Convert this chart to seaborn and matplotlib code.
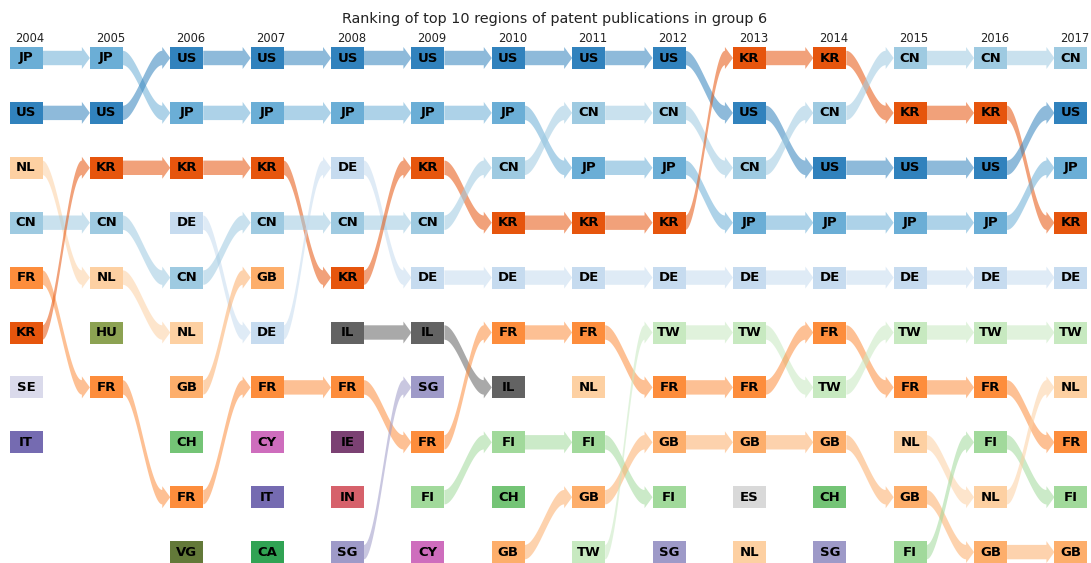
import numpy as np
import pandas as pd
import matplotlib
matplotlib.use("Agg")
import matplotlib.pyplot as plt
import seaborn as sns

YEARS = list(range(2004, 2018))

TOP_2004 = ["JP", "US", "NL", "CN", "FR", "KR", "SE", "IT"]
TOP_2005 = ["JP", "US", "KR", "CN", "NL", "HU", "FR"]
TOP_2006 = ["US", "JP", "KR", "DE", "CN", "NL", "GB", "CH", "FR", "VG"]
TOP_2007 = ["US", "JP", "KR", "CN", "GB", "DE", "FR", "CY", "IT", "CA"]
TOP_2008 = ["US", "JP", "DE", "CN", "KR", "IL", "FR", "IE", "IN", "SG"]
TOP_2009 = ["US", "JP", "KR", "CN", "DE", "IL", "SG", "FR", "FI", "CY"]
TOP_2010 = ["US", "JP", "CN", "KR", "DE", "FR", "IL", "FI", "CH", "GB"]
TOP_2011 = ["US", "CN", "JP", "KR", "DE", "FR", "NL", "FI", "GB", "TW"]
TOP_2012 = ["US", "CN", "JP", "KR", "DE", "TW", "FR", "GB", "FI", "SG"]
TOP_2013 = ["KR", "US", "CN", "JP", "DE", "TW", "FR", "GB", "ES", "NL"]
TOP_2014 = ["KR", "CN", "US", "JP", "DE", "FR", "TW", "GB", "CH", "SG"]
TOP_2015 = ["CN", "KR", "US", "JP", "DE", "TW", "FR", "NL", "GB", "FI"]
TOP_2016 = ["CN", "KR", "US", "JP", "DE", "TW", "FR", "FI", "NL", "GB"]
TOP_2017 = ["CN", "US", "JP", "KR", "DE", "TW", "NL", "FR", "FI", "GB"]

RANKINGS = dict(zip(YEARS, [TOP_2004, TOP_2005, TOP_2006, TOP_2007, TOP_2008,
                            TOP_2009, TOP_2010, TOP_2011, TOP_2012, TOP_2013,
                            TOP_2014, TOP_2015, TOP_2016, TOP_2017]))

# region -> colour index in tab20c / tab20b
TAB20C_IDX = {"US": 0, "JP": 1, "CN": 2, "DE": 3, "KR": 4, "FR": 5, "GB": 6,
              "NL": 7, "CA": 8, "CH": 9, "FI": 10, "TW": 11, "IT": 12,
              "SG": 13, "SE": 15, "IL": 16, "ES": 19}
TAB20B_IDX = {"VG": 4, "HU": 5, "IN": 14, "IE": 16, "CY": 18}

pal_c = sns.color_palette("tab20c", 20)
pal_b = sns.color_palette("tab20b", 20)
COLORS = {k: pal_c[i] for k, i in TAB20C_IDX.items()}
COLORS.update({k: pal_b[i] for k, i in TAB20B_IDX.items()})

df = pd.DataFrame([(y, r + 1, reg) for y in YEARS for r, reg in enumerate(RANKINGS[y])],
                  columns=["year", "rank", "region"])

sns.set_style("white")

# pixel scale of the layout
COL_PX, ROW_PX = 80.38, 54.9
PX_X, PX_Y = 1 / COL_PX, 1 / ROW_PX
BOX_W, BOX_H = 33, 22

fig = plt.figure(figsize=(10.91, 5.63), dpi=100)
ax = fig.add_axes([0, 0, 1, 1])


def ribbon(ax, x0, y0, x1, y1, color):
    half_w = BOX_W / 2 * PX_X
    head_len = 8 * PX_X
    xs = x0 + half_w
    xb = x1 - half_w - head_len
    xt = x1 - half_w
    t = np.linspace(0, 1, 80)
    s = 3 * t ** 2 - 2 * t ** 3
    xx = xs + (xb - xs) * t
    yy = y0 + (y1 - y0) * s
    h = 7.2 * PX_Y
    hh = 11 * PX_Y
    px = np.concatenate([xx, [xb, xt, xb], xx[::-1]])
    py = np.concatenate([yy - h, [y1 - hh, y1, y1 + hh], (yy + h)[::-1]])
    ax.fill(px, py, color=color, alpha=0.55, lw=0, zorder=1)


for ya, yb in zip(YEARS[:-1], YEARS[1:]):
    for ra, reg in enumerate(RANKINGS[ya]):
        if reg in RANKINGS[yb]:
            rb = RANKINGS[yb].index(reg)
            ribbon(ax, ya, ra + 1, yb, rb + 1, COLORS[reg])

rect = [(-1.5, -1), (1.5, -1), (1.5, 1), (-1.5, 1), (-1.5, -1)]
sns.scatterplot(data=df, x="year", y="rank", hue="region", palette=COLORS,
                marker=rect, s=(BOX_W * 0.72) ** 2, linewidth=0, legend=False,
                ax=ax, zorder=2)
ax.set_xlim(2004 - 26 * PX_X, 2004 + (1091 - 26) * PX_X)
ax.set_ylim(1 + (563 - 58) * PX_Y, 1 - 58 * PX_Y)
ax.axis("off")

for _, row in df.iterrows():
    ax.text(row["year"], row["rank"], row["region"], ha="center", va="center",
            fontsize=9.5, fontweight="bold", color="black", zorder=3)

for y in YEARS:
    ax.text(y + 4 * PX_X, 1 - 20 * PX_Y, str(y), ha="center", va="center",
            fontsize=8.3, color="#222222")

fig.text(555 / 1091, 1 - 19 / 563,
         "Ranking of top 10 regions of patent publications in group 6",
         ha="center", va="center", fontsize=10.4, color="#222222")

fig.savefig("out.png", dpi=100)
